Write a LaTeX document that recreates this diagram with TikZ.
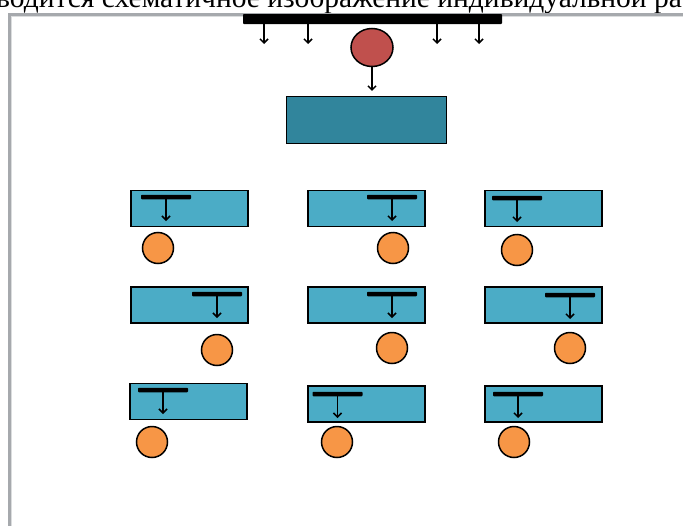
\documentclass[tikz,border=0pt]{standalone}
\usepackage{fontspec}
\setmainfont{Liberation Serif}
\usetikzlibrary{arrows.meta,shapes.geometric}

\definecolor{boxblue}{HTML}{4BACC6}
\definecolor{mainteal}{HTML}{31859C}
\definecolor{ballred}{HTML}{C0504D}
\definecolor{ballorange}{HTML}{F79646}
\definecolor{framegray}{HTML}{A6A9AD}

\begin{document}
\begin{tikzpicture}[x=1pt,y=-1pt,
    block/.style={draw=black,line width=1.6pt,fill=boxblue,minimum width=117,minimum height=36,inner sep=0pt},
    tbar/.style={fill=black,minimum width=50,minimum height=4.5,inner sep=0pt,rounded corners=0.8pt},
    ball/.style={circle,draw=black,line width=1.5pt,fill=ballorange,minimum size=31,inner sep=0pt},
    down/.style={-{Straight Barb[length=4pt,width=8pt]},line width=1.5pt}]

    \useasboundingbox (0,0) rectangle (683,525);
    \clip (0,0) rectangle (683,525);

    % cut-off line of text above the frame
    \node[anchor=base west,inner sep=0pt,font=\fontsize{29.5}{29.5}\selectfont] (caption) at (-4,7)
        {водится схематичное изображение индивидуальной ра};

    % frame
    \draw[framegray,line width=3pt] (9,530) -- (9,14) -- (690,14);
    \draw[framegray!40,line width=1pt] (11.5,530) -- (11.5,16.5) -- (690,16.5);

    % top bar with the falling arrows
    \node[tbar,minimum width=259,minimum height=10] (topbar) at (372.5,19) {};
    \foreach \x [count=\i] in {264,308,437,479}
    {
        \coordinate (t\i) at (\x,44);
        \draw[down] (topbar.south -| t\i) -- (t\i);
    }

    \node[ellipse,draw=black,line width=1.5pt,fill=ballred,minimum width=42,minimum height=38,inner sep=0pt] (red) at (372,47.5) {};
    \node[draw=black,line width=1.2pt,fill=mainteal,minimum width=160,minimum height=47,inner sep=0pt] (main) at (366.5,120) {};
    \draw[down,shorten >=5pt] (red) -- (red |- main.north);

    % nine small blocks
    \foreach \n/\bx/\by/\tx/\ty/\cx/\cy in {
        a/189.5/208.5/166/197/158/248,
        b/366.5/208.5/392/197/393/248,
        c/543.5/208.5/517/198/517/250,
        d/189.5/305/217/294/217/350,
        e/366.5/305/392/294/392/348,
        f/543.5/305/570/295/570/348,
        g/188.5/401.5/163/390/152/442,
        h/366.5/404/337.5/394/337/442,
        i/543.5/404/518/394/514/442}
    {
        \node[block] (box\n) at (\bx,\by) {};
        \node[tbar] (bar\n) at (\tx,\ty) {};
        \coordinate (tip\n) at (\tx,{\ty+24});
        \draw[down] (bar\n) -- (tip\n);
        \node[ball] (ball\n) at (\cx,\cy) {};
    }

\end{tikzpicture}
\end{document}
